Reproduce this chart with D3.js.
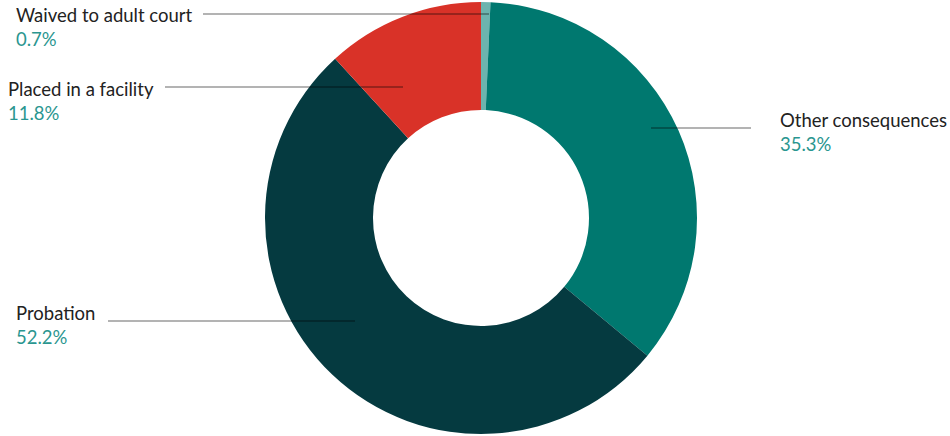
<!DOCTYPE html>
<html>
<head>
<meta charset="utf-8">
<script src="https://cdn.jsdelivr.net/npm/d3@7"></script>
<style>
  body { margin: 0; background: #fff; }
  svg text { font-family: Lato, "Noto Sans", sans-serif; }
</style>
</head>
<body>
<svg id="donut" width="950" height="436"></svg>
<script>
// ---- data (share of outcomes, %) ----
let categories = ["Waived to adult court", "Other consequences", "Probation", "Placed in a facility"];
let shares     = [0.7, 35.3, 52.2, 11.8];
let colors     = ["#6cb4ae", "#00786f", "#053a40", "#d93228"];

// label layout : text anchor x, baseline y, leader line (y, x0 -> x1)
let labelPos = [
  {tx: 16,  ty: 22,  ly: 14,  lx0: 203, lx1: 489},
  {tx: 780, ty: 127, ly: 128, lx0: 651, lx1: 751},
  {tx: 16,  ty: 320, ly: 321, lx0: 108, lx1: 355},
  {tx: 8,   ty: 96,  ly: 87,  lx0: 165, lx1: 403}
];

let svg = d3.select('#donut');
let cx = 481, cy = 218;
let outerR = 216, innerR = 108;

let data = categories.map(function(c, i) {
  return {name: c, value: shares[i], color: colors[i], pos: labelPos[i]};
});

let pie = d3.pie()
  .value(d => d.value)
  .sort(null);

let arc = d3.arc()
  .innerRadius(innerR)
  .outerRadius(outerR);

let g = svg.append("g").attr("transform", "translate(" + cx + "," + cy + ")");

g.selectAll("path.slice")
  .data(pie(data))
  .enter().append("path")
  .attr("class", "slice")
  .attr("d", arc)
  .attr("fill", d => d.data.color);

// leader lines (semi transparent so they darken over the slices)
svg.selectAll("line.leader")
  .data(data)
  .enter().append("line")
  .attr("class", "leader")
  .attr("x1", d => d.pos.lx0)
  .attr("x2", d => d.pos.lx1)
  .attr("y1", d => d.pos.ly)
  .attr("y2", d => d.pos.ly)
  .attr("stroke", "#000")
  .attr("stroke-opacity", 0.4)
  .attr("stroke-width", 1.3);

let lab = svg.selectAll("g.lab")
  .data(data)
  .enter().append("g")
  .attr("class", "lab");

lab.append("text")
  .attr("x", d => d.pos.tx)
  .attr("y", d => d.pos.ty)
  .attr("fill", "#222")
  .style("font-size", "18.5px")
  .text(d => d.name);

lab.append("text")
  .attr("x", d => d.pos.tx)
  .attr("y", d => d.pos.ty + 24)
  .attr("fill", "#2a9690")
  .style("font-size", "18.5px")
  .text(d => d3.format(".1f")(d.value) + "%");
</script>
</body>
</html>
